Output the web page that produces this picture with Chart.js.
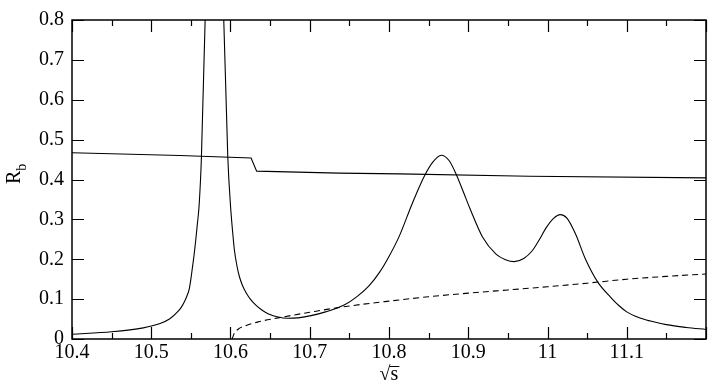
<!DOCTYPE html>
<html>
<head>
<meta charset="utf-8">
<script src="https://cdn.jsdelivr.net/npm/chart.js@4/dist/chart.umd.min.js"></script>
<style>
html,body{margin:0;padding:0;background:#fff;}
#c{display:block;}
</style>
</head>
<body>
<canvas id="c" width="708" height="382"></canvas>
<script>
// ---- data ----
const xTicksMajor = [10.4, 10.5, 10.6, 10.7, 10.8, 10.9, 11.0, 11.1, 11.2];
const xTicksMinor = [10.45, 10.55, 10.65, 10.75, 10.85, 10.95, 11.05, 11.15];
const yTicks = [0, 0.1, 0.2, 0.3, 0.4, 0.5, 0.6, 0.7, 0.8];

// resonance curve (solid)
const resX = [10.40, 10.45, 10.49, 10.51, 10.523, 10.534, 10.538, 10.542, 10.545, 10.548, 10.550, 10.552, 10.554, 10.556, 10.558, 10.5604, 10.5633, 10.568, 10.572, 10.576, 10.580, 10.584, 10.588, 10.5915, 10.5966, 10.600, 10.603, 10.605, 10.608, 10.611, 10.615, 10.6197, 10.625, 10.632, 10.640, 10.648, 10.66, 10.672, 10.685, 10.70, 10.72, 10.744, 10.76, 10.775, 10.788, 10.800, 10.813, 10.830, 10.845, 10.855, 10.866, 10.876, 10.885, 10.894, 10.902, 10.918, 10.935, 10.947, 10.958, 10.970, 10.981, 10.990, 10.998, 11.008, 11.016, 11.025, 11.035, 11.048, 11.063, 11.080, 11.090, 11.100, 11.115, 11.130, 11.150, 11.175, 11.20];
const resY = [0.012, 0.018, 0.028, 0.038, 0.050, 0.070, 0.080, 0.094, 0.108, 0.126, 0.150, 0.180, 0.210, 0.245, 0.285, 0.335, 0.455, 0.80, 1.20, 1.80, 2.40, 1.80, 1.15, 0.80, 0.455, 0.335, 0.262, 0.222, 0.185, 0.158, 0.135, 0.116, 0.100, 0.085, 0.072, 0.063, 0.055, 0.052, 0.053, 0.058, 0.068, 0.086, 0.107, 0.134, 0.167, 0.207, 0.258, 0.343, 0.410, 0.443, 0.461, 0.447, 0.412, 0.368, 0.328, 0.256, 0.213, 0.199, 0.194, 0.202, 0.222, 0.250, 0.278, 0.303, 0.312, 0.302, 0.265, 0.200, 0.144, 0.104, 0.084, 0.068, 0.054, 0.045, 0.036, 0.029, 0.024];

// nearly flat line (solid)
const flatX = [10.40, 10.536, 10.626, 10.633, 10.737, 10.813, 10.977, 11.20];
const flatY = [0.467, 0.460, 0.454, 0.421, 0.416, 0.414, 0.408, 0.404];

// threshold curve (dashed)
const dashX = [10.602, 10.605, 10.61, 10.62, 10.635, 10.66, 10.70, 10.74, 10.80, 10.85, 10.90, 10.95, 11.00, 11.05, 11.10, 11.15, 11.20];
const dashY = [0.000, 0.015, 0.025, 0.034, 0.043, 0.053, 0.067, 0.080, 0.095, 0.106, 0.115, 0.123, 0.131, 0.140, 0.150, 0.157, 0.163];

const pts = (xs, ys) => xs.map((x, i) => ({x: x, y: ys[i]}));

const FONT = '"Liberation Serif", "Times New Roman", Times, serif';

const frameTicks = {
  id: 'frameTicks',
  afterDatasetsDraw(chart) {
    const ctx = chart.ctx, a = chart.chartArea;
    const xs = chart.scales.x, ys = chart.scales.y;
    ctx.save();
    ctx.strokeStyle = '#000';
    ctx.lineWidth = 1.2;
    ctx.beginPath();
    xTicksMajor.forEach(v => {
      const p = Math.round(xs.getPixelForValue(v)) + 0.5;
      ctx.moveTo(p, a.bottom); ctx.lineTo(p, a.bottom - 12);
      ctx.moveTo(p, a.top); ctx.lineTo(p, a.top + 12);
    });
    xTicksMinor.forEach(v => {
      const p = Math.round(xs.getPixelForValue(v)) + 0.5;
      ctx.moveTo(p, a.bottom); ctx.lineTo(p, a.bottom - 6);
      ctx.moveTo(p, a.top); ctx.lineTo(p, a.top + 6);
    });
    yTicks.forEach(v => {
      const p = Math.round(ys.getPixelForValue(v)) + 0.5;
      ctx.moveTo(a.left, p); ctx.lineTo(a.left + 12, p);
      ctx.moveTo(a.right, p); ctx.lineTo(a.right - 12, p);
    });
    ctx.stroke();
    ctx.lineWidth = 1.5;
    ctx.strokeRect(a.left, a.top, a.right - a.left, a.bottom - a.top);
    ctx.restore();
  },
  afterDraw(chart) {
    const ctx = chart.ctx, a = chart.chartArea;
    ctx.save();
    ctx.fillStyle = '#000';
    ctx.translate(20, 184);
    ctx.rotate(-Math.PI / 2);
    ctx.textBaseline = 'alphabetic';
    ctx.textAlign = 'left';
    ctx.font = '20px ' + FONT;
    ctx.fillText('R', 0, 0);
    const rw = ctx.measureText('R').width;
    ctx.font = '14px ' + FONT;
    ctx.fillText('b', rw, 6);
    ctx.restore();
    ctx.save();
    ctx.fillStyle = '#000';
    ctx.strokeStyle = '#000';
    ctx.font = '20px ' + FONT;
    ctx.textBaseline = 'alphabetic';
    ctx.textAlign = 'left';
    const cx = (a.left + a.right) / 2;
    const w1 = ctx.measureText('\u221A').width;
    const w2 = ctx.measureText('s').width;
    const x0 = cx - (w1 + w2) / 2;
    ctx.fillText('\u221A', x0, 380);
    ctx.fillText('s', x0 + w1, 380);
    ctx.lineWidth = 1;
    ctx.beginPath();
    ctx.moveTo(x0 + w1 - 1, 366.5);
    ctx.lineTo(x0 + w1 + w2 + 1, 366.5);
    ctx.stroke();
    ctx.restore();
  }
};

function draw() {
  new Chart(document.getElementById('c'), {
    type: 'line',
    data: {
      datasets: [
        {data: pts(resX, resY), borderColor: '#000', borderWidth: 1.1, pointRadius: 0, cubicInterpolationMode: 'monotone', fill: false},
        {data: pts(flatX, flatY), borderColor: '#000', borderWidth: 1.1, pointRadius: 0, tension: 0, fill: false},
        {data: pts(dashX, dashY), borderColor: '#000', borderWidth: 1.1, borderDash: [6, 4], pointRadius: 0, cubicInterpolationMode: 'monotone', fill: false}
      ]
    },
    options: {
      responsive: false,
      animation: false,
      devicePixelRatio: 1,
      layout: {padding: {top: 7, right: 1, left: 0, bottom: 0}},
      plugins: {legend: {display: false}, tooltip: {enabled: false}},
      scales: {
        x: {
          type: 'linear', min: 10.4, max: 11.2,
          afterFit: s => { s.height = 43; },
          afterBuildTicks: s => { s.ticks = xTicksMajor.map(v => ({value: v})); },
          grid: {display: false, drawTicks: false},
          border: {display: false},
          ticks: {
            color: '#000', padding: 2, maxRotation: 0, autoSkip: false,
            font: {family: FONT, size: 20},
            callback: v => (Math.abs(v - 11.2) < 1e-6 ? '' : String(Math.round(v * 10) / 10))
          }
        },
        y: {
          type: 'linear', min: 0, max: 0.8,
          afterFit: s => { s.width = 72; },
          afterBuildTicks: s => { s.ticks = yTicks.map(v => ({value: v})); },
          grid: {display: false, drawTicks: false},
          border: {display: false},
          ticks: {
            color: '#000', padding: 8,
            font: {family: FONT, size: 20},
            callback: v => String(Math.round(v * 10) / 10)
          }
        }
      }
    },
    plugins: [frameTicks]
  });
}
if (document.fonts && document.fonts.load) {
  document.fonts.load('20px "Liberation Serif"').then(draw, draw);
} else {
  draw();
}
</script>
</body>
</html>
